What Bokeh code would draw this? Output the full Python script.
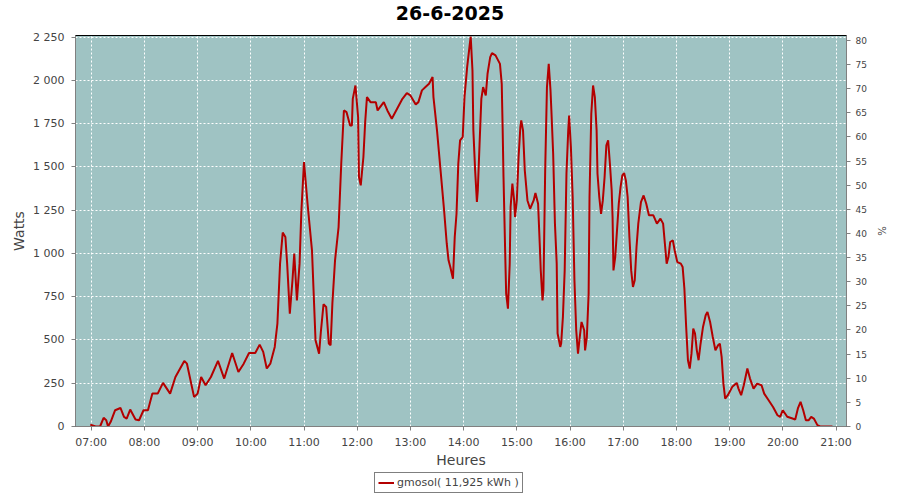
from bokeh.plotting import figure
from bokeh.layouts import column
from bokeh.models import (Range1d, LinearAxis, FixedTicker, Legend, LegendItem, Label)
from bokeh.embed import file_html
from bokeh.resources import INLINE

# ---- data ----
times = ["06:59","07:05","07:10","07:14","07:17","07:19","07:22","07:27","07:33","07:37",
         "07:40","07:44","07:50","07:54","07:59","08:04","08:09","08:15","08:21","08:29",
         "08:35","08:45","08:48","08:56","09:00","09:04","09:09","09:15","09:23","09:30",
         "09:39","09:46","09:52","09:58","10:05","10:10","10:14","10:18","10:22","10:27",
         "10:30","10:33","10:36","10:39","10:41","10:44","10:47","10:49","10:52","10:55",
         "10:57","11:00","11:04","11:09","11:13","11:17","11:19","11:22","11:25","11:28",
         "11:30","11:32","11:35","11:39","11:42","11:45","11:48","11:52","11:54","11:55",
         "11:58","12:01","12:02","12:04","12:07","12:09","12:11","12:15","12:21","12:23",
         "12:30","12:34","12:39","12:45","12:51","12:56","13:00","13:06","13:09","13:13",
         "13:17","13:21","13:25","13:26","13:30","13:34","13:38","13:41","13:43","13:45",
         "13:48","13:50","13:52","13:54","13:56","13:59","14:01","14:04","14:07","14:08",
         "14:10","14:11","14:13","14:15","14:16","14:18","14:20","14:22","14:25","14:27",
         "14:30","14:32","14:36","14:41","14:43","14:44","14:45","14:47","14:48","14:50",
         "14:52","14:53","14:55","14:57","14:58","15:00","15:02","15:04","15:05","15:07",
         "15:09","15:12","15:15","15:19","15:21","15:24","15:26","15:27","15:29","15:30",
         "15:32","15:34","15:36","15:38","15:39","15:41","15:43","15:45","15:46","15:49",
         "15:50","15:52","15:54","15:56","15:58","15:59","16:01","16:03","16:05","16:07",
         "16:09","16:11","16:13","16:16","16:17","16:19","16:21","16:22","16:24","16:26",
         "16:28","16:30","16:31","16:33","16:35","16:37","16:39","16:41","16:43","16:45",
         "16:47","16:48","16:49","16:51","16:53","16:55","16:57","16:59","17:01","17:03",
         "17:05","17:07","17:09","17:11","17:13","17:15","17:17","17:20","17:23","17:26",
         "17:29","17:34","17:38","17:42","17:45","17:47","17:49","17:51","17:53","17:56",
         "17:58","18:01","18:05","18:07","18:09","18:11","18:13","18:15","18:17","18:19",
         "18:21","18:23","18:25","18:27","18:30","18:33","18:35","18:38","18:41","18:44",
         "18:47","18:49","18:51","18:53","18:55","18:58","19:03","19:08","19:10","19:13",
         "19:16","19:20","19:23","19:27","19:31","19:36","19:39","19:44","19:49","19:54",
         "19:57","20:00","20:05","20:11","20:14","20:17","20:20","20:23","20:26","20:29",
         "20:32","20:35","20:39","20:42","20:56"]

watts = [11, 0, 0, 50, 36, 0, 27, 94, 107, 55,
         46, 98, 40, 36, 94, 94, 190, 190, 252, 190,
         286, 379, 363, 171, 190, 286, 238, 286, 379, 277,
         425, 315, 363, 425, 425, 473, 431, 335, 363, 460,
         594, 941, 1120, 1095, 941, 652, 845, 999, 729, 941,
         1239, 1528, 1287, 1018, 498, 421, 546, 706, 691, 479,
         469, 710, 960, 1152, 1518, 1826, 1816, 1739, 1739, 1893,
         1970, 1788, 1441, 1393, 1557, 1759, 1903, 1874, 1874, 1826,
         1874, 1826, 1778, 1836, 1893, 1926, 1913, 1861, 1874, 1942,
         1961, 1980, 2019, 1903, 1711, 1480, 1249, 1056, 960, 922,
         854, 1095, 1229, 1518, 1653, 1672, 1903, 2076, 2211, 2253,
         2057, 1711, 1480, 1297, 1364, 1634, 1893, 1961, 1913, 2038,
         2134, 2157, 2144, 2095, 1980, 1730, 1441, 979, 768, 681,
         941, 1268, 1403, 1306, 1210, 1306, 1557, 1730, 1768, 1711,
         1480, 1306, 1258, 1306, 1349, 1287, 1037, 902, 729, 787,
         1480, 1961, 2095, 1942, 1826, 1576, 1172, 941, 537, 460,
         479, 633, 902, 1460, 1711, 1797, 1614, 1326, 845, 556,
         421, 517, 604, 556, 440, 517, 768, 1326, 1807, 1970,
         1903, 1711, 1460, 1326, 1229, 1306, 1441, 1624, 1653, 1518,
         1364, 1210, 902, 979, 1133, 1287, 1383, 1451, 1464, 1422,
         1326, 1095, 902, 806, 845, 1037, 1172, 1297, 1335, 1287,
         1220, 1220, 1172, 1201, 1172, 1056, 941, 979, 1066, 1075,
         1018, 950, 941, 922, 796, 575, 383, 335, 421, 566,
         537, 440, 383, 469, 575, 643, 662, 604, 517, 440,
         469, 479, 402, 248, 161, 181, 229, 252, 219, 181,
         238, 335, 277, 219, 248, 238, 190, 152, 113, 65,
         56, 94, 56, 46, 40, 104, 142, 94, 36, 36,
         56, 46, 8, 0, 0]

x_tick_hours = list(range(7, 22))
x_tick_labels = ["07:00", "08:00", "09:00", "10:00", "11:00", "12:00", "13:00", "14:00",
                 "15:00", "16:00", "17:00", "18:00", "19:00", "20:00", "21:00"]
y_ticks = [0, 250, 500, 750, 1000, 1250, 1500, 1750, 2000, 2250]
y_tick_labels = ["0", "250", "500", "750", "1 000", "1 250", "1 500", "1 750", "2 000", "2 250"]
pct_ticks = list(range(0, 81, 5))

title_text = "26-6-2025"
legend_text = "gmosol( 11,925 kWh )"

# ---- conversion ----
hours = [int(t[:2]) + int(t[3:]) / 60.0 for t in times]

FONT = "DejaVu Sans"
TXT = "#444444"
LINE_COLOR = "#b40000"


def blank_strip(h):
    f = figure(width=900, height=h, output_backend="svg", toolbar_location=None,
               x_axis_type=None, y_axis_type=None,
               x_range=Range1d(0, 1), y_range=Range1d(0, 1), min_border=0)
    f.title = None
    f.outline_line_color = None
    f.background_fill_color = "white"
    f.border_fill_color = "white"
    f.xgrid.visible = False
    f.ygrid.visible = False
    return f


# ---- title strip (its frame is aligned with the chart frame) ----
head = blank_strip(27)
head.add_layout(Label(x=374.5, y=14.5, x_units="screen", y_units="screen", text=title_text,
                      text_align="center", text_baseline="middle", text_font=FONT,
                      text_font_style="bold", text_font_size="19px", text_color="black"))

# ---- main chart ----
p = figure(width=900, height=445, output_backend="svg", toolbar_location=None,
           x_range=Range1d(6.705, 21.197), y_range=Range1d(0, 2259),
           min_border_left=75, min_border_right=54, min_border_top=8, min_border_bottom=46)
p.title = None
p.extra_y_ranges = {"pct": Range1d(0, 81)}

p.background_fill_color = "#9fc3c3"
p.border_fill_color = "white"
p.outline_line_color = "black"
p.outline_line_width = 1

p.line(hours, watts, line_color=LINE_COLOR, line_width=2)

xa = p.xaxis[0]
xa.ticker = FixedTicker(ticks=x_tick_hours)
xa.major_label_overrides = {h: lab for h, lab in zip(x_tick_hours, x_tick_labels)}
xa.axis_label = "Heures"

ya = p.yaxis[0]
ya.ticker = FixedTicker(ticks=y_ticks)
ya.major_label_overrides = {v: lab for v, lab in zip(y_ticks, y_tick_labels)}
ya.axis_label = "Watts"

ra = LinearAxis(y_range_name="pct", axis_label="%")
ra.ticker = FixedTicker(ticks=pct_ticks)
p.add_layout(ra, "right")

for ax in (xa, ya, ra):
    ax.axis_line_color = "#808080"
    ax.major_tick_line_color = "#808080"
    ax.minor_tick_line_color = None
    ax.major_tick_in = 0
    ax.major_tick_out = 4
    ax.major_label_text_font = FONT
    ax.major_label_text_font_size = "11px"
    ax.major_label_text_color = TXT
    ax.axis_label_text_font = FONT
    ax.axis_label_text_font_size = "14px"
    ax.axis_label_text_font_style = "normal"
    ax.axis_label_text_color = TXT
xa.major_label_standoff = 5
xa.axis_label_standoff = 0
ya.major_label_standoff = 7
ya.axis_label_standoff = 3
ra.major_label_standoff = 5
ra.major_label_text_font_size = "9px"
ra.axis_label_text_font_size = "10px"
ra.axis_label_standoff = 6

p.xgrid.ticker = FixedTicker(ticks=x_tick_hours)
p.ygrid.ticker = FixedTicker(ticks=y_ticks)
for g in (p.xgrid[0], p.ygrid[0]):
    g.grid_line_color = "white"
    g.grid_line_dash = "2 2"
    g.grid_line_width = 1
    g.grid_line_alpha = 1.0

# ---- legend strip: the same series, whose points all fall outside this strip's ranges ----
foot = blank_strip(28)
key = foot.line(hours, watts, line_color=LINE_COLOR, line_width=2)
leg = Legend(items=[LegendItem(label=legend_text, renderers=[key])],
             location=(299, 7), orientation="horizontal",
             border_line_color="black", border_line_width=1,
             background_fill_color="white", background_fill_alpha=1,
             label_text_font=FONT, label_text_font_size="11px", label_text_color=TXT,
             glyph_width=16, glyph_height=13, label_height=13, label_standoff=3,
             padding=3, spacing=0, margin=0)
foot.add_layout(leg, "center")

layout = column(head, p, foot, spacing=0)
open("out.html", "w").write(file_html(layout, INLINE))
